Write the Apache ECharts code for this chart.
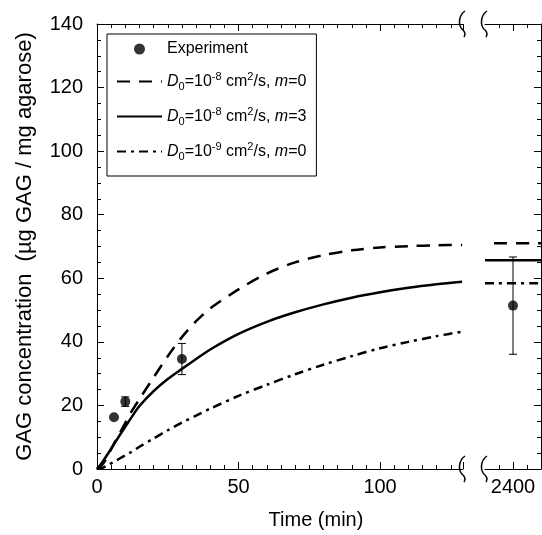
<!DOCTYPE html>
<html>
<head>
<meta charset="utf-8">
<script src="https://cdn.jsdelivr.net/npm/echarts@6/dist/echarts.min.js"></script>
<style>html,body{margin:0;padding:0;background:#fff}#c{width:542px;height:535px}</style>
</head>
<body>
<div id="c"></div>
<script>
// ---- data ----
const tCurve  = [0, 2, 4, 6, 8, 10, 12, 15, 20, 25, 30, 35, 40, 50, 60, 70, 80, 90, 100, 110, 120, 129];
const d8m0    = [0, 1.5, 4.5, 8, 11.2, 14.5, 17.8, 22, 28.8, 35.5, 41.5, 46.5, 50.5, 56.5, 61.5, 65, 67.3, 68.8, 69.7, 70.1, 70.4, 70.5];
const d8m3    = [0, 2.3, 5, 7.8, 10.6, 13.3, 16, 19.8, 24.5, 28.3, 31.5, 34.6, 37.6, 42.5, 46.3, 49.3, 51.8, 53.9, 55.6, 57, 58.1, 58.9];
const d9m0    = [0, 0.4, 1.3, 2.3, 3.3, 4.3, 5.3, 7, 9.6, 12.2, 14.6, 16.8, 19, 23, 26.5, 29.8, 32.8, 35.5, 38, 40, 41.8, 43.2];
const tLong   = [2390, 2410];
const d8m0Long = [71.0, 71.0];
const d8m3Long = [65.7, 65.7];
const d9m0Long = [58.4, 58.4];
const expTime = [6, 10, 30, 2400];
const expMean = [16.3, 21.2, 34.6, 51.4];
const expErr  = [0, 1.5, 4.9, 15.3];
const xTicksShort = [0, 50, 100];
const xTicksLong  = [2400];

// ---- layout ----
const FONT = 'Liberation Sans';
const G0 = {left: 97, top: 24, width: 366, height: 445};
const G1 = {left: 485, top: 24, width: 56, height: 445};

const zip = (a, b) => a.map((v, i) => [v, b[i]]);
const shortIdx = expTime.map((t, i) => i).filter(i => expTime[i] < 1000);
const longIdx  = expTime.map((t, i) => i).filter(i => expTime[i] >= 1000);

const legendLabels = {
  'Experiment': '{n|Experiment}',
  'A': '{i|D}{sub|0}{n|=10}{sup|-8}{n| cm}{sup|2}{n|/s, }{i|m}{n|=0}',
  'B': '{i|D}{sub|0}{n|=10}{sup|-8}{n| cm}{sup|2}{n|/s, }{i|m}{n|=3}',
  'C': '{i|D}{sub|0}{n|=10}{sup|-9}{n| cm}{sup|2}{n|/s, }{i|m}{n|=0}'
};

const axisLineStyle = {color: '#000', width: 1};
function xAxisCfg(grid, pos, min, max, interval, labelShow, split, labelVals, tickVals) {
  const a = {
    type: 'value', gridIndex: grid, position: pos, min: min, max: max, interval: interval,
    axisLine: {show: true, lineStyle: axisLineStyle, onZero: false},
    axisTick: {show: true, inside: true, length: 7, lineStyle: {color: '#000', width: 1}},
    minorTick: {show: true, splitNumber: split, length: 4, lineStyle: {color: '#000', width: 1}},
    axisLabel: {show: labelShow, color: '#000', fontFamily: FONT, fontSize: 20, margin: 8,
      formatter: v => String(v), customValues: labelVals},
    splitLine: {show: false}
  };
  if (tickVals) a.axisTick.customValues = tickVals;
  return a;
}
function yAxisCfg(grid, pos, labelShow) {
  return {
    type: 'value', gridIndex: grid, position: pos, min: 0, max: 140, interval: 20,
    axisLine: {show: true, lineStyle: axisLineStyle, onZero: false},
    axisTick: {show: true, inside: true, length: 7, lineStyle: {color: '#000', width: 1}},
    minorTick: {show: true, splitNumber: 4, length: 4, lineStyle: {color: '#000', width: 1}},
    axisLabel: {show: labelShow, color: '#000', fontFamily: FONT, fontSize: 20, margin: 14},
    splitLine: {show: false},
    name: labelShow ? 'GAG concentration  (\u00b5g GAG / mg agarose)' : '',
    nameLocation: 'middle', nameGap: 61,
    nameTextStyle: {color: '#000', fontFamily: FONT, fontSize: 22}
  };
}

function errRender(params, api) {
  const x = api.value(0), lo = api.value(1), hi = api.value(2);
  const p1 = api.coord([x, hi]);
  const p2 = api.coord([x, lo]);
  const w = 4;
  const st = {stroke: '#000', lineWidth: 1};
  return {type: 'group', children: [
    {type: 'line', shape: {x1: p1[0], y1: p1[1], x2: p2[0], y2: p2[1]}, style: st},
    {type: 'line', shape: {x1: p1[0] - w, y1: p1[1], x2: p1[0] + w, y2: p1[1]}, style: st},
    {type: 'line', shape: {x1: p2[0] - w, y1: p2[1], x2: p2[0] + w, y2: p2[1]}, style: st}
  ]};
}

const styleA = {color: '#000', width: 2.5, type: [13, 9]};
const styleA2 = {color: '#000', width: 2.5, type: [13, 9], dashOffset: 13};
const styleB = {color: '#000', width: 2.5, type: 'solid'};
const styleC = {color: '#000', width: 2.5, type: [9, 5, 3, 5]};
function lineSeries(name, data, ls, xi, yi) {
  return {type: 'line', name: name, data: data, xAxisIndex: xi, yAxisIndex: yi,
    showSymbol: false, symbol: 'none', smooth: 0.3, lineStyle: ls, itemStyle: {color: '#000'},
    silent: true, animation: false, z: 2};
}

function breakMark(x, y) {
  const st = {fill: null, stroke: '#000', lineWidth: 1.5};
  return {type: 'group', x: x, y: y, z: 100, children: [
    {type: 'bezierCurve', shape: {x1: 2, y1: -13, cpx1: -5, cpy1: -8, cpx2: -5, cpy2: 2, x2: 0, y2: 6}, style: st},
    {type: 'bezierCurve', shape: {x1: 0, y1: 6, cpx1: 2, cpy1: 8, cpx2: 3, cpy2: 10, x2: 1, y2: 13}, style: st}
  ]};
}

const noSym = {opacity: 0};
const chart = echarts.init(document.getElementById('c'), null, {renderer: 'canvas'});
chart.setOption({
  animation: false,
  backgroundColor: '#fff',
  textStyle: {fontFamily: FONT},
  grid: [
    {left: G0.left, top: G0.top, width: G0.width, height: G0.height},
    {left: G1.left, top: G1.top, width: G1.width, height: G1.height}
  ],
  xAxis: [
    xAxisCfg(0, 'bottom', 0, 129.3, 50, true, 10, xTicksShort, null),
    xAxisCfg(0, 'top', 0, 129.3, 50, false, 10, xTicksShort, null),
    xAxisCfg(1, 'bottom', 2390, 2410, 10, true, 2, xTicksLong, xTicksLong),
    xAxisCfg(1, 'top', 2390, 2410, 10, false, 2, xTicksLong, xTicksLong)
  ],
  yAxis: [
    yAxisCfg(0, 'left', true),
    yAxisCfg(1, 'right', false)
  ],
  legend: {
    show: true, left: 107, top: 34, orient: 'vertical',
    data: [{name: 'Experiment'}, {name: 'A', itemStyle: noSym}, {name: 'B', itemStyle: noSym}, {name: 'C', itemStyle: noSym}],
    borderColor: '#000', borderWidth: 1, borderRadius: 0,
    padding: [7, 10, 14, 9], itemGap: 14, itemWidth: 45, itemHeight: 11,
    selectedMode: false,
    formatter: name => legendLabels[name],
    textStyle: {
      color: '#000', fontFamily: FONT, fontSize: 16,
      rich: {
        n: {fontFamily: FONT, fontSize: 16, color: '#000', lineHeight: 21},
        i: {fontFamily: FONT, fontSize: 16, fontStyle: 'italic', color: '#000', lineHeight: 21},
        sub: {fontFamily: FONT, fontSize: 11, color: '#000', padding: [10, 0, 0, 0], lineHeight: 12},
        sup: {fontFamily: FONT, fontSize: 11, color: '#000', padding: [0, 0, 9, 0], lineHeight: 12}
      }
    }
  },
  graphic: [
    breakMark(G0.left + G0.width, G0.top),
    breakMark(G1.left, G1.top),
    breakMark(G0.left + G0.width, G0.top + G0.height),
    breakMark(G1.left, G1.top + G1.height),
    {type: 'text', x: 316, y: 520,
      style: {text: 'Time (min)', fontFamily: FONT, fontSize: 20, fill: '#000', align: 'center', verticalAlign: 'middle'}}
  ],
  series: [
    {type: 'scatter', name: 'Experiment', xAxisIndex: 0, yAxisIndex: 0,
      data: shortIdx.map(i => [expTime[i], expMean[i]]), symbol: 'circle', symbolSize: 10,
      itemStyle: {color: '#000'}, z: 5},
    lineSeries('A', zip(tCurve, d8m0), styleA, 0, 0),
    lineSeries('B', zip(tCurve, d8m3), styleB, 0, 0),
    lineSeries('C', zip(tCurve, d9m0), styleC, 0, 0),
    lineSeries('A', zip(tLong, d8m0Long), styleA2, 2, 1),
    lineSeries('B', zip(tLong, d8m3Long), styleB, 2, 1),
    lineSeries('C', zip(tLong, d9m0Long), styleC, 2, 1),
    {type: 'scatter', name: 'Experiment', xAxisIndex: 2, yAxisIndex: 1,
      data: longIdx.map(i => [expTime[i], expMean[i]]), symbol: 'circle', symbolSize: 10,
      itemStyle: {color: '#000'}, z: 5},
    {type: 'custom', name: 'errS', xAxisIndex: 0, yAxisIndex: 0, renderItem: errRender, z: 4,
      data: shortIdx.filter(i => expErr[i] > 0).map(i => [expTime[i], expMean[i] - expErr[i], expMean[i] + expErr[i]])},
    {type: 'custom', name: 'errL', xAxisIndex: 2, yAxisIndex: 1, renderItem: errRender, z: 4,
      data: longIdx.filter(i => expErr[i] > 0).map(i => [expTime[i], expMean[i] - expErr[i], expMean[i] + expErr[i]])}
  ]
});
</script>
</body>
</html>
